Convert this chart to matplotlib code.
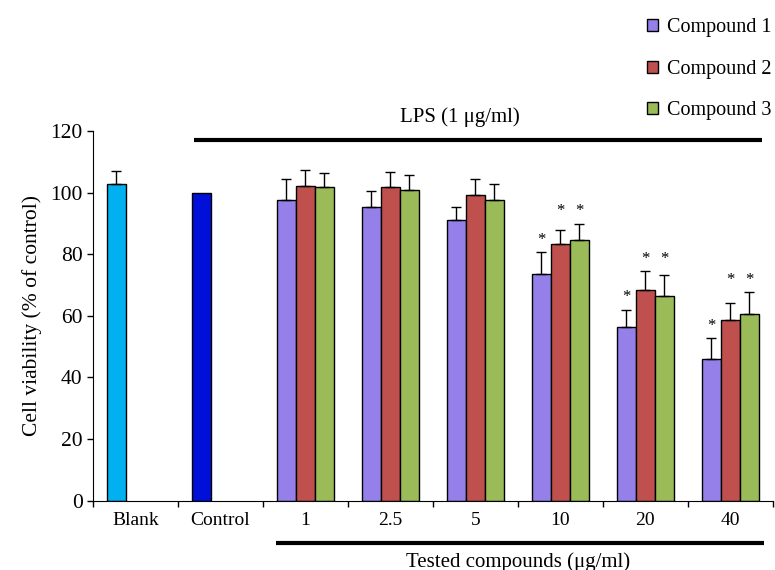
import matplotlib
matplotlib.use('Agg')
import matplotlib.pyplot as plt
import numpy as np
from matplotlib.patches import Patch

plt.rcParams['font.family'] = ['Liberation Serif', 'DejaVu Serif']

labels = ['Blank', 'Control', '1', '2.5', '5', '10', '20', '40']
series = ['Compound 1', 'Compound 2', 'Compound 3']

blank_val, blank_err = 102.8, 4.2
control_val = 100.0

# groups 1, 2.5, 5, 10, 20, 40
comp1 = [97.6, 95.2, 91.1, 73.7, 56.4, 45.9]
comp2 = [102.3, 101.9, 99.1, 83.4, 68.4, 58.8]
comp3 = [101.9, 100.8, 97.6, 84.6, 66.4, 60.7]
err1 = [6.8, 5.3, 4.4, 7.0, 5.6, 6.8]
err2 = [4.9, 4.7, 5.3, 4.5, 6.2, 5.3]
err3 = [4.5, 4.9, 5.3, 5.3, 7.0, 7.0]
# significance flags per group (comp1, comp2, comp3)
sig1 = [0, 0, 0, 1, 1, 1]
sig2 = [0, 0, 0, 1, 1, 1]
sig3 = [0, 0, 0, 1, 1, 1]

colors = ['#9580EA', '#C0504D', '#9BBB59']
blank_color = '#00B0F0'
control_color = '#0010D8'

fig = plt.figure(figsize=(7.75, 5.7), dpi=100)
ax = fig.add_axes([0.12, 0.1216, 0.877, 0.6485])

w = 0.224
ekw = dict(ecolor='black', elinewidth=1, capsize=3.5, capthick=1)
ax.bar(0 - w, blank_val, w, color=blank_color, edgecolor='black', linewidth=1,
       yerr=[[0], [blank_err]], error_kw=ekw)
ax.bar(1 - w, control_val, w, color=control_color, edgecolor='black', linewidth=1)

xg = np.arange(2, 8)
vals = [comp1, comp2, comp3]
errs = [err1, err2, err3]
for i in range(3):
    ax.bar(xg + (i - 1) * w, vals[i], w, color=colors[i], edgecolor='black', linewidth=1,
           yerr=[np.zeros(6), errs[i]], error_kw=ekw, label=series[i])

# stars
for j in range(6):
    top1 = comp1[j] + err1[j]
    top23 = max(comp2[j] + err2[j], comp3[j] + err3[j])
    if sig1[j]:
        ax.text(xg[j] - w, top1 + 4.0, '*', ha='center', va='center', fontsize=12)
    if sig2[j]:
        ax.text(xg[j], top23 + 4.0, '*', ha='center', va='center', fontsize=12)
    if sig3[j]:
        ax.text(xg[j] + w, top23 + 4.0, '*', ha='center', va='center', fontsize=12)

ax.set_xlim(-0.5, 7.5)
ax.set_ylim(0, 120)
ax.set_yticks(np.arange(0, 121, 20))
ax.set_xticks(np.arange(8))
ax.set_xticklabels(labels)
ax.set_xticks(np.arange(-0.5, 7.6, 1), minor=True)
ax.tick_params(axis='x', which='major', length=0, pad=8, labelsize=14)
ax.tick_params(axis='x', which='minor', length=4, direction='out', width=1)
ax.tick_params(axis='y', length=4, direction='out', width=1, labelsize=15.5)
ax.spines['top'].set_visible(False)
ax.spines['right'].set_visible(False)
ax.set_ylabel('Cell viability (% of control)', fontsize=15.5, labelpad=6)

# LPS bar on top
ax.plot([0.69, 7.38], [117, 117], color='black', lw=3, clip_on=False, solid_capstyle='butt')
ax.text(3.82, 124.5, 'LPS (1 μg/ml)', ha='center', va='center', fontsize=15)

# tested compounds bar at bottom
ax.plot([1.65, 7.4], [-0.114, -0.114], color='black', lw=3, clip_on=False,
        solid_capstyle='butt', transform=ax.get_xaxis_transform())
ax.text(4.5, -0.165, 'Tested compounds (μg/ml)', ha='center', va='center', fontsize=15,
        transform=ax.get_xaxis_transform())

handles = [Patch(facecolor=c, edgecolor='black', linewidth=1) for c in colors]
fig.legend(handles, series, loc='upper left', bbox_to_anchor=(0.835, 0.968), frameon=False,
           fontsize=14.5, handlelength=0.52, handleheight=0.52, handletextpad=0.45,
           labelspacing=1.12, borderaxespad=0, borderpad=0)

fig.savefig('out.png', dpi=100)
